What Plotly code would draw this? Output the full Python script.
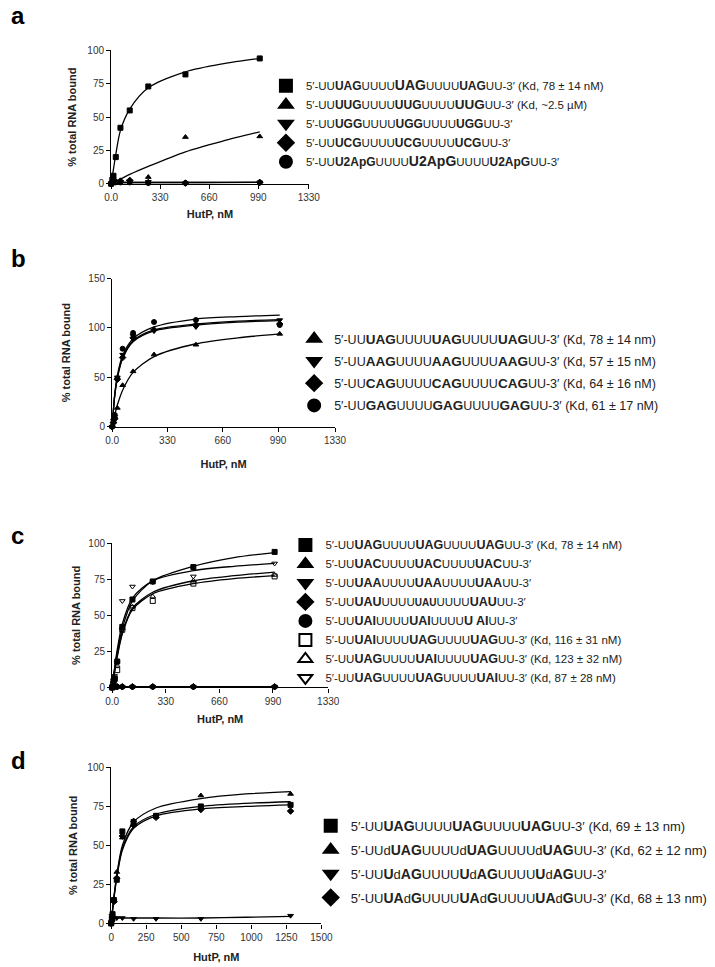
import plotly.graph_objects as go

W, H = 715, 967
FONT = "Arial, Liberation Sans, sans-serif"

# ---------------- Panel a ----------------
a_x = [0, 7.8, 15.6, 31.25, 62.5, 125, 250, 500, 1000]
a_uag = [0, 3, 6, 20, 42, 55, 73, 82, 94]
a_uug = [0, 1, 1, 2, 2, 3, 5, 35, 35.5]
a_ugg = [0, 0.5, 1, 1, 1.5, 2, 1.5, 0.5, 1]
a_ucg = [0, 1, 1.5, 1.5, 2, 2.5, 1, 0.5, 1]
a_u2apg = [0, 0.5, 1, 1, 1, 1, 0.5, 0.5, 1]
a_fit_x = [0, 15.6, 31.25, 62.5, 125, 250, 500, 750, 1000]
a_fit_uag = [0, 11, 22, 40, 56, 72, 84, 90, 94]
a_fit_uug = [0, 1, 2, 3.5, 7, 13, 24, 32, 39]
a_fit_ugg = [0, 0.5, 0.8, 1, 1, 1, 1, 1, 1]
a_fit_ucg = [0, 0.6, 0.9, 1, 1, 1, 1, 1, 1]
a_fit_u2apg = [0, 0.4, 0.6, 0.7, 0.7, 0.7, 0.7, 0.8, 1]
a_labels = [
    "5′-UU<b>UAG</b>UUUU<b><span style='font-size:14px'>UAG</span></b>UUUU<b>UAG</b>UU-3′ (Kd, 78 ± 14 nM)",
    "5′-UU<b>UUG</b>UUUU<b>UUG</b>UUUU<b><span style='font-size:13.5px'>UUG</span></b>UU-3′ (Kd, ~2.5 µM)",
    "5′-UU<b>UGG</b>UUUU<b>UGG</b>UUUU<b>UGG</b>UU-3′",
    "5′-UU<b>UCG</b>UUUU<b>UCG</b>UUUU<b>UCG</b>UU-3′",
    "5′-UU<b>U2ApG</b>UUUU<b><span style='font-size:14px'>U2ApG</span></b>UUUU<b>U2ApG</b>UU-3′",
]
a_ticks = [0, 330, 660, 990, 1330]
a_ticktext = ["0.0", "330", "660", "990", "1330"]

# ---------------- Panel b ----------------
b_x = [0, 7.8, 15.6, 31.25, 62.5, 125, 250, 500, 1000]
b_uag = [0, 5, 10, 19, 42, 56, 73, 83, 94]
b_aag = [0, 6, 10, 50, 73, 92, 97, 101, 108]
b_cag = [0, 4, 8, 48, 70, 90, 98, 103, 104]
b_gag = [0, 5, 12, 49, 79, 95, 106, 108, 103]
b_fit_x = [0, 15.6, 31.25, 62.5, 125, 250, 500, 750, 1000]
b_fit_uag = [0, 12, 22, 37, 55, 71, 84, 90, 94]
b_fit_aag = [0, 32, 50, 70, 87, 98, 104, 107, 108.5]
b_fit_cag = [0, 31, 49, 69, 86, 97, 103, 106, 107.5]
b_fit_gag = [0, 33, 52, 72, 89, 101, 109, 111.5, 113]
b_labels = [
    "5′-UU<b>UAG</b>UUUU<b>UAG</b>UUUU<b>UAG</b>UU-3′ (Kd, 78 ± 14 nm)",
    "5′-UU<b>AAG</b>UUUU<b>AAG</b>UUUU<b>AAG</b>UU-3′ (Kd, 57 ± 15 nM)",
    "5′-UU<b>CAG</b>UUUU<b>CAG</b>UUUU<b>CAG</b>UU-3′ (Kd, 64 ± 16 nM)",
    "5′-UU<b>GAG</b>UUUU<b>GAG</b>UUUU<b>GAG</b>UU-3′ (Kd, 61 ± 17 nM)",
]
b_ticks = [0, 330, 660, 990, 1330]
b_ticktext = ["0.0", "330", "660", "990", "1330"]

# ---------------- Panel c ----------------
c_x = [0, 7.8, 15.6, 31.25, 62.5, 125, 250, 500, 1000]
c_uag = [0, 3, 6, 18, 42, 61, 73.5, 83.5, 94]
c_uac = [0, 0.5, 0.5, 0.5, 0.5, 0.5, 0.5, 0.5, 0.5]
c_uaa = [0, 0.5, 0.5, 0.5, 0.5, 0.5, 0.5, 0.5, 0.5]
c_uau = [0, 0.5, 0.5, 0.5, 0.5, 0.5, 0.5, 0.5, 0.5]
c_uai = [0, 0.5, 0.5, 0.5, 0.5, 0.5, 0.5, 0.5, 0.5]
c_iag = [0, 3, 6, 12, 40, 55, 60, 72, 77]
c_gig = [0, 4, 7, 15, 41, 56, 63, 74, 78]
c_ggi = [0, 5, 8, 17, 60, 70, 73, 77, 86]
c_fit_x = [0, 15.6, 31.25, 62.5, 125, 250, 500, 750, 1000]
c_fit_uag = [0, 13, 24, 41, 60, 74, 84, 90, 93.5]
c_fit_flat = [0.5, 0.5, 0.5, 0.5, 0.5, 0.5, 0.5, 0.5, 0.5]
c_fit_iag = [0, 11, 21, 37, 54, 65, 72, 75.5, 77.5]
c_fit_gig = [0, 11.5, 22, 38, 55, 66, 74, 77.5, 80]
c_fit_ggi = [0, 14, 26, 44, 62, 74, 81, 84, 86]
c_labels = [
    "5′-UU<b>UAG</b>UUUU<b>UAG</b>UUUU<b>UAG</b>UU-3′ (Kd, 78 ± 14 nM)",
    "5′-UU<b>UAC</b>UUUU<b>UAC</b>UUUU<b>UAC</b>UU-3′",
    "5′-UU<b>UAA</b>UUUU<b>UAA</b>UUUU<b>UAA</b>UU-3′",
    "5′-UU<b>UAU</b>UUUU<b><span style='font-size:10px'>UAU</span></b>UUUU<b>UAU</b>UU-3′",
    "5′-UU<b>UAI</b>UUUU<b>UAI</b>UUUU<b>U AI</b>UU-3′",
    "5′-UU<b>UAI</b>UUUU<b>UAG</b>UUUU<b>UAG</b>UU-3′ (Kd, 116 ± 31 nM)",
    "5′-UU<b>UAG</b>UUUU<b>UAI</b>UUUU<b>UAG</b>UU-3′ (Kd, 123 ± 32 nM)",
    "5′-UU<b>UAG</b>UUUU<b>UAG</b>UUUU<b>UAI</b>UU-3′ (Kd, 87 ± 28 nM)",
]
c_ticks = [0, 330, 660, 990, 1330]
c_ticktext = ["0.0", "330", "660", "990", "1330"]

# ---------------- Panel d ----------------
d_x = [0, 5, 10, 20, 40, 80, 160, 320, 640, 1280]
d_uag = [0, 3, 6, 15, 28, 59, 65, 69, 75, 76]
d_duag = [0, 2, 5, 16, 33, 55, 66, 69, 82, 83]
d_udag = [0, 5, 4, 3.5, 3.5, 3.5, 3, 3, 3, 5]
d_uadg = [0, 2, 4, 14, 29, 56, 63, 68, 73, 72]
d_fit_x = [0, 20, 40, 80, 160, 320, 640, 960, 1280]
d_fit_uag = [0, 17, 30, 48, 62, 70, 75, 77, 78]
d_fit_duag = [0, 17, 31, 50, 65, 74, 80, 83, 84.5]
d_fit_udag = [0, 3.5, 3.5, 3.5, 3.5, 3.5, 3.5, 4, 4.5]
d_fit_uadg = [0, 16, 29, 47, 61, 69, 73.5, 75, 76]
d_labels = [
    "5′-UU<b>UAG</b>UUUU<b>UAG</b>UUUU<b>UAG</b>UU-3′ (Kd, 69 ± 13 nm)",
    "5′-UUd<b>UAG</b>UUUUd<b>UAG</b>UUUUd<b>UAG</b>UU-3′ (Kd, 62 ± 12 nm)",
    "5′-UU<b>U</b>d<b>AG</b>UUUU<b>U</b>d<b>AG</b>UUUU<b>U</b>d<b>AG</b>UU-3′",
    "5′-UU<b>UA</b>d<b>G</b>UUUU<b>UA</b>d<b>G</b>UUUU<b>UA</b>d<b>G</b>UU-3′ (Kd, 68 ± 13 nm)",
]
d_ticks = [0, 250, 500, 750, 1000, 1250, 1500]
d_ticktext = ["0", "250", "500", "750", "1000", "1250", "1500"]

# ---------------- layout geometry (pixels) ----------------
panels = [
    dict(key="a", xr=[0, 1330], yr=[0, 100], xpx=(107, 310), ypx=(45, 180),
         yticks=[0, 25, 50, 75, 100], xticks=a_ticks, xtt=a_ticktext,
         xstand=8, ystand=8, letter_y=10,
         legend=dict(left=266, top=66, size=11.5, bold=12, gap=0, order="normal"),
         series=[(a_labels[0], "square", a_x, a_uag, a_fit_x, a_fit_uag),
                 (a_labels[1], "triangle-up", a_x, a_uug, a_fit_x, a_fit_uug),
                 (a_labels[2], "triangle-down", a_x, a_ugg, a_fit_x, a_fit_ugg),
                 (a_labels[3], "diamond", a_x, a_ucg, a_fit_x, a_fit_ucg),
                 (a_labels[4], "circle", a_x, a_u2apg, a_fit_x, a_fit_u2apg)]),
    dict(key="b", xr=[0, 1330], yr=[0, 150], xpx=(108, 337), ypx=(276, 426),
         yticks=[0, 50, 100, 150], xticks=b_ticks, xtt=b_ticktext,
         xstand=15, ystand=15, letter_y=256,
         legend=dict(left=295, top=322, size=12.5, bold=13.5, gap=3, order="grouped"),
         series=[(b_labels[0], "triangle-up", b_x, b_uag, b_fit_x, b_fit_uag),
                 (b_labels[1], "triangle-down", b_x, b_aag, b_fit_x, b_fit_aag),
                 (b_labels[2], "diamond", b_x, b_cag, b_fit_x, b_fit_cag),
                 (b_labels[3], "circle", b_x, b_gag, b_fit_x, b_fit_gag)]),
    dict(key="c", xr=[0, 1330], yr=[0, 100], xpx=(108, 330), ypx=(544, 690),
         yticks=[0, 25, 50, 75, 100], xticks=c_ticks, xtt=c_ticktext,
         xstand=9, ystand=5, letter_y=536,
         legend=dict(left=286, top=531, size=11.5, bold=12.5, gap=0, order="normal"),
         series=[(c_labels[0], "square", c_x, c_uag, c_fit_x, c_fit_uag),
                 (c_labels[1], "triangle-up", c_x, c_uac, c_fit_x, c_fit_flat),
                 (c_labels[2], "triangle-down", c_x, c_uaa, c_fit_x, c_fit_flat),
                 (c_labels[3], "diamond", c_x, c_uau, c_fit_x, c_fit_flat),
                 (c_labels[4], "circle", c_x, c_uai, c_fit_x, c_fit_flat),
                 (c_labels[5], "square-open", c_x, c_iag, c_fit_x, c_fit_iag),
                 (c_labels[6], "triangle-up-open", c_x, c_gig, c_fit_x, c_fit_gig),
                 (c_labels[7], "triangle-down-open", c_x, c_ggi, c_fit_x, c_fit_ggi)]),
    dict(key="d", xr=[0, 1500], yr=[0, 100], xpx=(107, 323), ypx=(771, 929),
         yticks=[0, 25, 50, 75, 100], xticks=d_ticks, xtt=d_ticktext,
         xstand=11, ystand=7, letter_y=764,
         legend=dict(left=312, top=815, size=13, bold=14, gap=4, order="grouped"),
         series=[(d_labels[0], "square", d_x, d_uag, d_fit_x, d_fit_uag),
                 (d_labels[1], "triangle-up", d_x, d_duag, d_fit_x, d_fit_duag),
                 (d_labels[2], "triangle-down", d_x, d_udag, d_fit_x, d_fit_udag),
                 (d_labels[3], "diamond", d_x, d_uadg, d_fit_x, d_fit_uadg)]),
]


def styled(label, bold_size):
    return (label.replace("<b>", f"<b><span style='font-size:{bold_size}px'>")
                 .replace("</b>", "</span></b>"))


fig = go.Figure()
layout = dict(width=W, height=H, margin=dict(l=0, r=0, t=0, b=0),
              paper_bgcolor="white", plot_bgcolor="white",
              font=dict(family=FONT, color="#222"), showlegend=True)
annotations = []

for i, p in enumerate(panels, start=1):
    xa = "x" if i == 1 else f"x{i}"
    ya = "y" if i == 1 else f"y{i}"
    lg = "legend" if i == 1 else f"legend{i}"
    L = p["legend"]
    for j, (name, sym, xs, ys, fx, fy) in enumerate(p["series"]):
        fig.add_trace(go.Scatter(x=fx, y=fy, mode="lines", xaxis=xa, yaxis=ya,
                                 line=dict(color="black", width=1.3, shape="spline", smoothing=0.8),
                                 showlegend=False, hoverinfo="skip", cliponaxis=False,
                                 legend=lg, legendgroup=f"{p['key']}{j}"))
        fig.add_trace(go.Scatter(x=xs, y=ys, mode="markers", xaxis=xa, yaxis=ya,
                                 name=styled(name, L["bold"]),
                                 marker=dict(symbol=sym, size=5, color="black",
                                             line=dict(color="black", width=1)),
                                 cliponaxis=False, legend=lg, legendgroup=f"{p['key']}{j}"))
    x0, x1 = p["xpx"]
    y0, y1 = p["ypx"]
    axis_common = dict(showline=True, linecolor="black", linewidth=1.2, ticks="outside",
                       ticklen=4, tickwidth=1, tickcolor="black", showgrid=False,
                       zeroline=False, tickfont=dict(size=10, color="#333", family=FONT))
    layout["xaxis" if i == 1 else f"xaxis{i}"] = dict(
        domain=[x0 / W, x1 / W], range=p["xr"], anchor=ya,
        tickmode="array", tickvals=p["xticks"], ticktext=p["xtt"],
        title=dict(text="<b>HutP, nM</b>", font=dict(size=11, color="#222"),
                   standoff=p["xstand"]),
        **axis_common)
    layout["yaxis" if i == 1 else f"yaxis{i}"] = dict(
        domain=[1 - y1 / H, 1 - y0 / H], range=p["yr"], anchor=xa,
        tickmode="array", tickvals=p["yticks"],
        title=dict(text="<b>% total RNA bound</b>", font=dict(size=11, color="#222"),
                   standoff=p["ystand"]),
        **axis_common)
    layout[lg] = dict(x=L["left"] / W, y=1 - L["top"] / H, xanchor="left", yanchor="top",
                      bgcolor="rgba(0,0,0,0)", font=dict(size=L["size"], family=FONT, color="#222"),
                      itemsizing="constant", tracegroupgap=L["gap"], traceorder=L["order"])
    annotations.append(dict(text=f"<b>{p['key']}</b>", x=2 / W, y=1 - p["letter_y"] / H,
                            xref="paper", yref="paper", xanchor="left", yanchor="middle",
                            showarrow=False, font=dict(size=24, family=FONT, color="black")))

layout["annotations"] = annotations
fig.update_layout(**layout)
fig.write_html("out.html", config={"displayModeBar": False},
               post_script="document.body.style.margin='0';")
